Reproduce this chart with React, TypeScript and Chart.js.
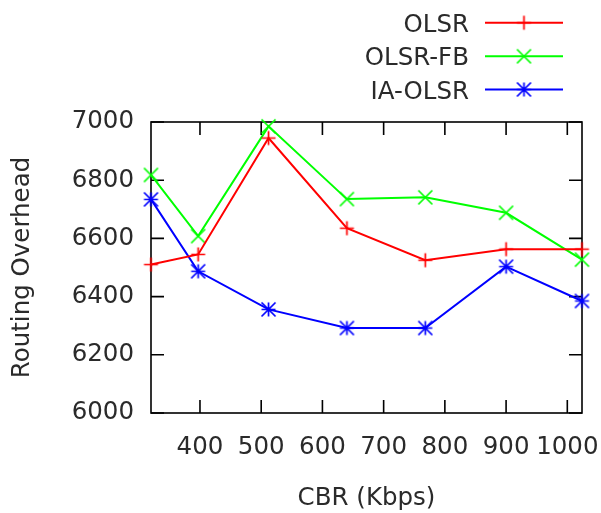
import React, { useEffect, useRef } from 'react';
import { Chart, registerables } from 'chart.js';

Chart.register(...registerables);

const cbrValues = [320, 397, 512, 640, 768, 900, 1024];
const olsrValues = [6510, 6545, 6945, 6635, 6525, 6563, 6563];
const olsrFbValues = [6818, 6608, 6985, 6735, 6741, 6688, 6527];
const iaOlsrValues = [6734, 6487, 6356, 6292, 6292, 6503, 6385];
const xTickValues = [400, 500, 600, 700, 800, 900, 1000];
const yTickValues = [6000, 6200, 6400, 6600, 6800, 7000];
const seriesNames = ['OLSR', 'OLSR-FB', 'IA-OLSR'];
const seriesColors = ['#ff0000', '#00ff00', '#0000ff'];
const seriesMarkers = ['plus', 'x', 'star'];
const xTitle = 'CBR (Kbps)';
const yTitle = 'Routing Overhead';

const FONT = "'DejaVu Sans', sans-serif";
const TEXT = '#2a2a2a';
const FS = 24.5;

function makeMarker(kind: string, color: string): HTMLCanvasElement {
  const c = document.createElement('canvas');
  c.width = 19;
  c.height = 19;
  const g = c.getContext('2d')!;
  const m = 9.5;
  const r = 7;
  g.strokeStyle = color;
  g.lineWidth = 1.7;
  g.lineCap = 'butt';
  g.beginPath();
  if (kind === 'plus' || kind === 'star') {
    g.moveTo(m - r, m); g.lineTo(m + r, m);
    g.moveTo(m, m - r); g.lineTo(m, m + r);
  }
  if (kind === 'x' || kind === 'star') {
    g.moveTo(m - r, m - r); g.lineTo(m + r, m + r);
    g.moveTo(m - r, m + r); g.lineTo(m + r, m - r);
  }
  g.stroke();
  return c;
}

export default function App() {
  const ref = useRef<HTMLCanvasElement | null>(null);

  useEffect(() => {
    if (!ref.current) return;
    const markers = seriesMarkers.map((k, i) => makeMarker(k, seriesColors[i]));
    const seriesData = [olsrValues, olsrFbValues, iaOlsrValues];

    const framePlugin = {
      id: 'gnuFrame',
      beforeDatasetsDraw(chart: any) {
        const { ctx, chartArea, scales } = chart;
        const { left, right, top, bottom } = chartArea;
        const tl = 13;
        ctx.save();
        ctx.strokeStyle = '#000';
        ctx.lineWidth = 1.6;
        ctx.beginPath();
        for (const v of xTickValues) {
          const px = scales.x.getPixelForValue(v);
          ctx.moveTo(px, bottom); ctx.lineTo(px, bottom - tl);
          ctx.moveTo(px, top); ctx.lineTo(px, top + tl);
        }
        for (const v of yTickValues) {
          const py = scales.y.getPixelForValue(v);
          ctx.moveTo(left, py); ctx.lineTo(left + tl, py);
          ctx.moveTo(right, py); ctx.lineTo(right - tl, py);
        }
        ctx.stroke();
        ctx.strokeRect(left, top, right - left, bottom - top);
        ctx.restore();
      },
    };

    const legendPlugin = {
      id: 'gnuLegend',
      afterDraw(chart: any) {
        const { ctx } = chart;
        const rows = [22.7, 56.3, 89.5];
        ctx.save();
        ctx.font = `${FS}px ${FONT}`;
        ctx.textAlign = 'right';
        ctx.textBaseline = 'alphabetic';
        chart.data.datasets.forEach((ds: any, i: number) => {
          const y = rows[i];
          ctx.fillStyle = TEXT;
          ctx.fillText(ds.label, 469, y + 9);
          ctx.strokeStyle = ds.borderColor;
          ctx.lineWidth = 2;
          ctx.beginPath();
          ctx.moveTo(485, y);
          ctx.lineTo(563, y);
          ctx.stroke();
          const img = markers[i];
          ctx.drawImage(img, 524 - img.width / 2, y - img.height / 2);
        });
        ctx.restore();
      },
    };

    const tickFont = { family: FONT, size: FS, lineHeight: 1.2 };

    const chart = new Chart(ref.current, {
      type: 'line',
      data: {
        datasets: seriesNames.map((name, i) => ({
          label: name,
          data: cbrValues.map((x, j) => ({ x, y: seriesData[i][j] })),
          borderColor: seriesColors[i],
          backgroundColor: seriesColors[i],
          borderWidth: 2,
          tension: 0,
          pointStyle: markers[i],
          pointRadius: 7,
          clip: false,
        })),
      },
      options: {
        animation: false,
        responsive: false,
        layout: { padding: { top: 122, right: 19, left: 0, bottom: 0 } },
        plugins: {
          legend: { display: false },
          tooltip: { enabled: false },
        },
        scales: {
          x: {
            type: 'linear',
            min: 320,
            max: 1024,
            afterBuildTicks: (s: any) => { s.ticks = xTickValues.map((v) => ({ value: v })); },
            afterFit: (s: any) => { s.height = 100; s.paddingLeft = 0; s.paddingRight = 0; },
            grid: { display: false, drawTicks: false },
            border: { display: false },
            ticks: {
              font: tickFont,
              color: TEXT,
              padding: 20,
              maxRotation: 0,
              autoSkip: false,
              callback: (v: any) => String(v),
            },
            title: {
              display: true,
              text: xTitle,
              font: tickFont,
              color: TEXT,
              padding: { top: 0, bottom: 0 },
            },
          },
          y: {
            type: 'linear',
            min: 6000,
            max: 7000,
            afterBuildTicks: (s: any) => { s.ticks = yTickValues.map((v) => ({ value: v })); },
            afterFit: (s: any) => { s.width = 151; s.paddingTop = 0; s.paddingBottom = 0; },
            grid: { display: false, drawTicks: false },
            border: { display: false },
            ticks: {
              font: tickFont,
              color: TEXT,
              padding: 17,
              autoSkip: false,
              callback: (v: any) => String(v),
            },
            title: {
              display: true,
              text: yTitle,
              font: tickFont,
              color: TEXT,
              padding: { top: 8, bottom: 0 },
            },
          },
        },
      },
      plugins: [framePlugin, legendPlugin],
    } as any);

    return () => chart.destroy();
  }, []);

  return (
    <div style={{ position: 'fixed', left: 0, top: 0, width: 601, height: 513, background: '#fff' }}>
      <canvas ref={ref} width={601} height={513} />
    </div>
  );
}
